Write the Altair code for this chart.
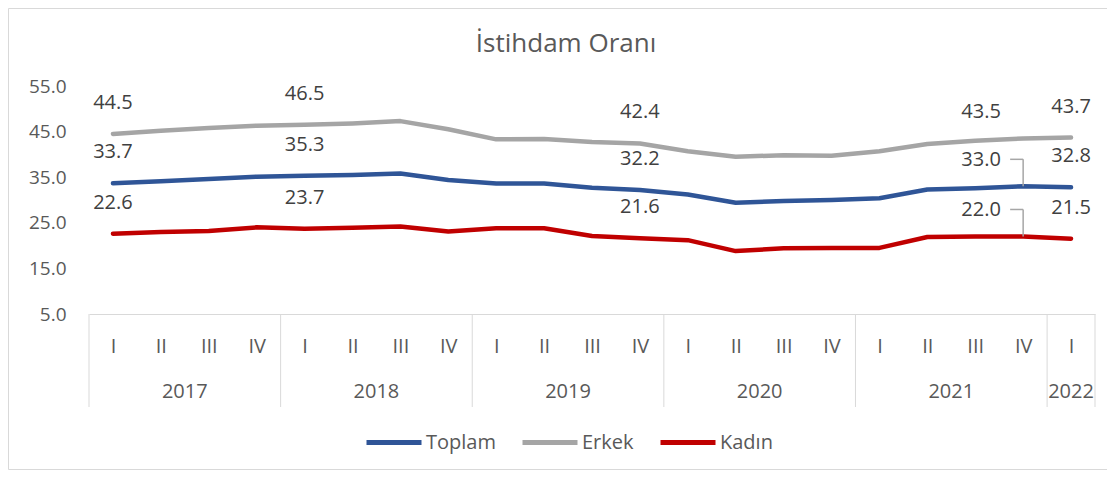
import altair as alt
import pandas as pd

# ---------------- data ----------------
chart_title = "İstihdam Oranı"
quarters = ["I", "II", "III", "IV"] * 5 + ["I"]
quarter_years = [2017] * 4 + [2018] * 4 + [2019] * 4 + [2020] * 4 + [2021] * 4 + [2022]

toplam = [33.7, 34.1, 34.6, 35.1, 35.3, 35.5, 35.8, 34.4, 33.6, 33.6, 32.7,
          32.2, 31.2, 29.4, 29.8, 30.0, 30.4, 32.3, 32.6, 33.0, 32.8]
erkek = [44.5, 45.2, 45.8, 46.3, 46.5, 46.8, 47.3, 45.5, 43.3, 43.4, 42.7,
         42.4, 40.7, 39.5, 39.8, 39.7, 40.7, 42.3, 43.0, 43.5, 43.7]
kadin = [22.6, 23.0, 23.2, 24.0, 23.7, 23.9, 24.2, 23.1, 23.8, 23.8, 22.1,
         21.6, 21.2, 18.8, 19.4, 19.5, 19.5, 21.9, 22.0, 22.0, 21.5]

series_names = ["Toplam", "Erkek", "Kadın"]
series_colors = ["#2F5597", "#A5A5A5", "#C00000"]
y_ticks = [5, 15, 25, 35, 45, 55]
label_points = [0, 4, 11, 19, 20]
shifted_points = [19]
leader_series = ["Toplam", "Kadın"]

# ---------------- tables ----------------
n = len(quarters)
rows = []
for name, vals in zip(series_names, [toplam, erkek, kadin]):
    for i, v in enumerate(vals):
        rows.append({"idx": i, "seri": name, "deger": v})
df = pd.DataFrame(rows)

lab = df[df["idx"].isin(label_points)].copy()
lab["txt"] = lab["deger"].map(lambda v: f"{v:.1f}")
lab["shift"] = lab["idx"].isin(shifted_points)
lead = lab[lab["shift"] & lab["seri"].isin(leader_series)].copy()

year_list = sorted(set(quarter_years))
yrows, bounds = [], set()
for y in year_list:
    ids = [i for i, qy in enumerate(quarter_years) if qy == y]
    s, e = min(ids) - 0.5, max(ids) + 0.5
    bounds.update([s, e])
    yrows.append({"idx": (s + e) / 2, "yil": str(y)})
years_df = pd.DataFrame(yrows)
bounds_df = pd.DataFrame({"idx": sorted(bounds)})
one = pd.DataFrame({"t": [chart_title]})

# ---------------- styling ----------------
FONT = "Open Sans"
TXT = "#595959"
W, H = 1006, 228

quarter_expr = "[" + ",".join(f"'{q}'" for q in quarters) + "][datum.value]"
x_axis = alt.Axis(values=list(range(n)), labelExpr=quarter_expr, ticks=False, grid=False,
                  domainColor="#D9D9D9", domainWidth=1, labelFont=FONT, labelFontSize=20,
                  labelColor=TXT, labelPadding=22, labelAngle=0, labelFlush=False,
                  labelOverlap=False)
x_scale = alt.Scale(domain=[-0.5, n - 0.5], nice=False, zero=False)
y_axis = alt.Axis(values=y_ticks, format=".1f", domain=False, ticks=False, grid=False,
                  labelFont=FONT, labelFontSize=19, labelColor=TXT, labelPadding=23)
y_scale = alt.Scale(domain=[5, 55], nice=False, zero=False)

X = alt.X("idx:Q", scale=x_scale, axis=x_axis, title=None)
Y = alt.Y("deger:Q", scale=y_scale, axis=y_axis, title=None)

border = alt.Chart(one).mark_rect(fill="transparent", stroke="#D9D9D9", strokeWidth=1).encode(
    x=alt.value(-80.5), x2=alt.value(1018.5), y=alt.value(-77.5), y2=alt.value(383.5))

title = alt.Chart(one).mark_text(font=FONT, fontSize=26, color=TXT, baseline="middle",
                                 align="center").encode(
    x=alt.value(477), y=alt.value(-42), text="t:N")

separators = alt.Chart(bounds_df).mark_rule(color="#D9D9D9", strokeWidth=1).encode(
    x=X, y=alt.value(H), y2=alt.value(H + 93))

year_text = alt.Chart(years_df).mark_text(font=FONT, fontSize=20, color=TXT,
                                          baseline="middle").encode(
    x=X, y=alt.value(305.7), text="yil:N")

lines = alt.Chart(df).mark_line(strokeWidth=4.5, strokeCap="round", strokeJoin="round").encode(
    x=X, y=Y,
    color=alt.Color("seri:N", sort=series_names,
                    scale=alt.Scale(domain=series_names, range=series_colors),
                    legend=alt.Legend(orient="none", legendX=275, legendY=326.5,
                                      direction="horizontal", columns=3, title=None,
                                      symbolType="stroke", symbolSize=3025,
                                      symbolStrokeWidth=5, labelFont=FONT,
                                      labelFontSize=20, labelColor=TXT, labelOffset=2,
                                      columnPadding=16, padding=0)),
    detail="seri:N")

labels_main = alt.Chart(lab).transform_filter("!datum.shift").mark_text(
    font=FONT, fontSize=20, color="#404040", dy=-31).encode(x=X, y=Y, text="txt:N")
labels_shift = alt.Chart(lab).transform_filter("datum.shift").mark_text(
    font=FONT, fontSize=20, color="#404040", dx=-42, dy=-26).encode(x=X, y=Y, text="txt:N")

lead_v = alt.Chart(lead).mark_rule(color="#A6A6A6", strokeWidth=1.5, y2Offset=-27).encode(
    x=X, y=Y, y2=alt.Y2("deger:Q"))
lead_h = alt.Chart(lead).mark_rule(color="#A6A6A6", strokeWidth=1.5, xOffset=-13,
                                   yOffset=-27, y2Offset=-27).encode(
    x=X, x2=alt.X2("idx:Q"), y=Y, y2=alt.Y2("deger:Q"))

chart = alt.layer(border, title, separators, year_text, lines, lead_v, lead_h,
                  labels_main, labels_shift).properties(
    width=W, height=H,
    padding={"left": 81, "top": 78, "right": 12, "bottom": 156},
    autosize=alt.AutoSizeParams(type="none"),
    background="white",
).configure_view(stroke="transparent")

chart.save("out.html", embed_options={"renderer": "svg", "actions": False})
